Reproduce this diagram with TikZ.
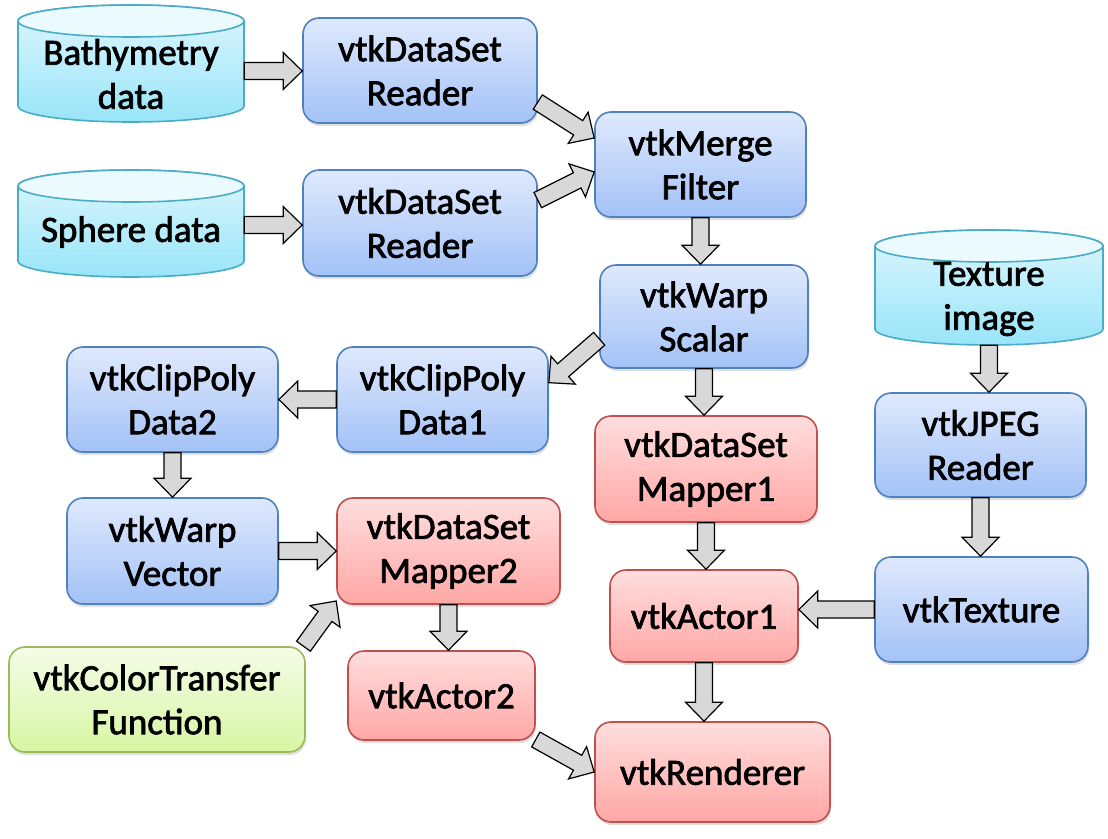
\documentclass[tikz,border=0pt]{standalone}
\usepackage{fontspec}
\setmainfont[FakeBold=2]{Carlito}
\usepackage{tikz}
\usetikzlibrary{calc,shadows}

\definecolor{blueline}{RGB}{79,129,189}
\definecolor{bluetop}{RGB}{223,233,253}
\definecolor{bluebot}{RGB}{163,194,247}
\definecolor{redline}{RGB}{192,80,77}
\definecolor{redtop}{RGB}{255,222,222}
\definecolor{redbot}{RGB}{255,167,165}
\definecolor{greenline}{RGB}{155,187,89}
\definecolor{greentop}{RGB}{245,252,232}
\definecolor{greenbot}{RGB}{215,246,163}
\definecolor{cyanline}{RGB}{75,172,198}
\definecolor{cyantop}{RGB}{222,246,253}
\definecolor{cyanbot}{RGB}{152,229,249}
\definecolor{cyanlid}{RGB}{234,250,254}
\definecolor{arrowgray}{RGB}{216,216,216}

\tikzset{
  vtkbox/.style={draw, line width=1.6pt, rounded corners=16pt, align=center, inner sep=0pt,
    drop shadow={shadow xshift=1pt,shadow yshift=-3pt,opacity=0.25}},
  bluebox/.style={vtkbox, draw=blueline, top color=bluetop, bottom color=bluebot},
  redbox/.style={vtkbox, draw=redline, top color=redtop, bottom color=redbot},
  greenbox/.style={vtkbox, draw=greenline, top color=greentop, bottom color=greenbot},
  cylbody/.style={draw=cyanline, line width=1.6pt, top color=cyantop, bottom color=cyanbot},
  cyllid/.style={draw=cyanline, line width=1.6pt, fill=cyanlid},
  cyltext/.style={align=center, inner sep=0pt},
  fatarr/.style={draw=black, line width=1.2pt, fill=arrowgray, line join=miter}
}

% block arrow from #1 to #2
\newcommand\fatarrow[2]{%
  \filldraw[fatarr]
    ($(#1)!8.5pt!90:(#2)$)
    -- ($(#2)!19pt!(#1)!8.5pt!90:(#2)$)
    -- ($(#2)!19pt!(#1)!18.5pt!90:(#2)$)
    -- (#2)
    -- ($(#2)!19pt!(#1)!18.5pt!-90:(#2)$)
    -- ($(#2)!19pt!(#1)!8.5pt!-90:(#2)$)
    -- ($(#1)!8.5pt!-90:(#2)$) -- cycle;}

\begin{document}
\begin{tikzpicture}[x=1pt,y=-1pt,every node/.style={font=\fontsize{37}{44}\selectfont}]
\useasboundingbox (0,0) rectangle (1108,838);

% data sources
\shadedraw[cylbody] (18,21) -- (18,106) arc[start angle=180,end angle=360,x radius=113pt,y radius=16pt]
  -- (244,21) arc[start angle=0,end angle=180,x radius=113pt,y radius=16pt] -- cycle;
\filldraw[cyllid] (131,21) ellipse[x radius=113pt,y radius=16pt];
\node[cyltext, minimum width=226pt, minimum height=100pt] (bathy) at (131,71) {};
\node[cyltext] (bathylbl) at (131,74) {Bathymetry\\data};

\shadedraw[cylbody] (18,186) -- (18,261) arc[start angle=180,end angle=360,x radius=113pt,y radius=16pt]
  -- (244,186) arc[start angle=0,end angle=180,x radius=113pt,y radius=16pt] -- cycle;
\filldraw[cyllid] (131,186) ellipse[x radius=113pt,y radius=16pt];
\node[cyltext, minimum width=226pt, minimum height=90pt] (sphere) at (131,225) {};
\node[cyltext] (spherelbl) at (131,232) {Sphere data};

\shadedraw[cylbody] (875,246) -- (875,329) arc[start angle=180,end angle=360,x radius=114pt,y radius=16pt]
  -- (1103,246) arc[start angle=0,end angle=180,x radius=114pt,y radius=16pt] -- cycle;
\filldraw[cyllid] (989,246) ellipse[x radius=114pt,y radius=16pt];
\node[cyltext, minimum width=228pt, minimum height=96pt] (texcyl) at (989,297) {};
\node[cyltext] (texcyllbl) at (989,299) {Texture\\image};

% filters
\node[bluebox, minimum width=234pt, minimum height=105pt] (reader1) at (420,70.5) {vtkDataSet\\Reader};
\node[bluebox, minimum width=234pt, minimum height=106pt] (reader2) at (420,223) {vtkDataSet\\Reader};
\node[bluebox, minimum width=211pt, minimum height=105pt] (merge) at (700.5,164.5) {vtkMerge\\Filter};
\node[bluebox, minimum width=208pt, minimum height=103pt] (warpS) at (704,316.5) {vtkWarp\\Scalar};
\node[bluebox, minimum width=211pt, minimum height=105pt] (clip1) at (442.5,399.5) {vtkClipPoly\\Data1};
\node[bluebox, minimum width=211pt, minimum height=105pt] (clip2) at (172.5,399.5) {vtkClipPoly\\Data2};
\node[bluebox, minimum width=211pt, minimum height=106pt] (warpV) at (172.5,551) {vtkWarp\\Vector};
\node[bluebox, minimum width=211pt, minimum height=104pt] (jpeg) at (980.5,445) {vtkJPEG\\Reader};
\node[bluebox, minimum width=213pt, minimum height=105pt] (texture) at (981.5,609.5) {vtkTexture};
\node[greenbox, minimum width=296pt, minimum height=105pt] (ctf) at (157,699.5) {vtkColorTransfer\\Function};

% mappers, actors, renderer
\node[redbox, minimum width=222pt, minimum height=106pt] (mapper1) at (706,469) {vtkDataSet\\Mapper1};
\node[redbox, minimum width=223pt, minimum height=106pt] (mapper2) at (448.5,551) {vtkDataSet\\Mapper2};
\node[redbox, minimum width=188pt, minimum height=92pt] (actor1) at (704,616) {vtkActor1};
\node[redbox, minimum width=187pt, minimum height=89pt] (actor2) at (441.5,695.5) {vtkActor2};
\node[redbox, minimum width=235pt, minimum height=100pt] (renderer) at (712.5,772) {vtkRenderer};

% connections
\fatarrow{bathy.east}{bathy.east -| reader1.west}
\fatarrow{sphere.east}{sphere.east -| reader2.west}
\fatarrow{reader1.-15}{merge.166}
\fatarrow{reader2.11}{merge.184}
\fatarrow{merge.south}{merge.south |- warpS.north}
\fatarrow{warpS.192}{clip1.9}
\fatarrow{warpS.south}{warpS.south |- mapper1.north}
\fatarrow{clip1.west}{clip1.west -| clip2.east}
\fatarrow{clip2.south}{clip2.south |- warpV.north}
\fatarrow{warpV.east}{warpV.east -| mapper2.west}
\fatarrow{ctf.20}{mapper2.204}
\fatarrow{mapper2.south}{mapper2.south |- actor2.north}
\fatarrow{actor2.-25}{renderer.west}
\fatarrow{mapper1.south}{mapper1.south |- actor1.north}
\fatarrow{actor1.south}{actor1.south |- renderer.north}
\fatarrow{texture.west}{texture.west -| actor1.east}
\fatarrow{texcyl.south}{texcyl.south |- jpeg.north}
\fatarrow{jpeg.south}{jpeg.south |- texture.north}
\end{tikzpicture}
\end{document}
